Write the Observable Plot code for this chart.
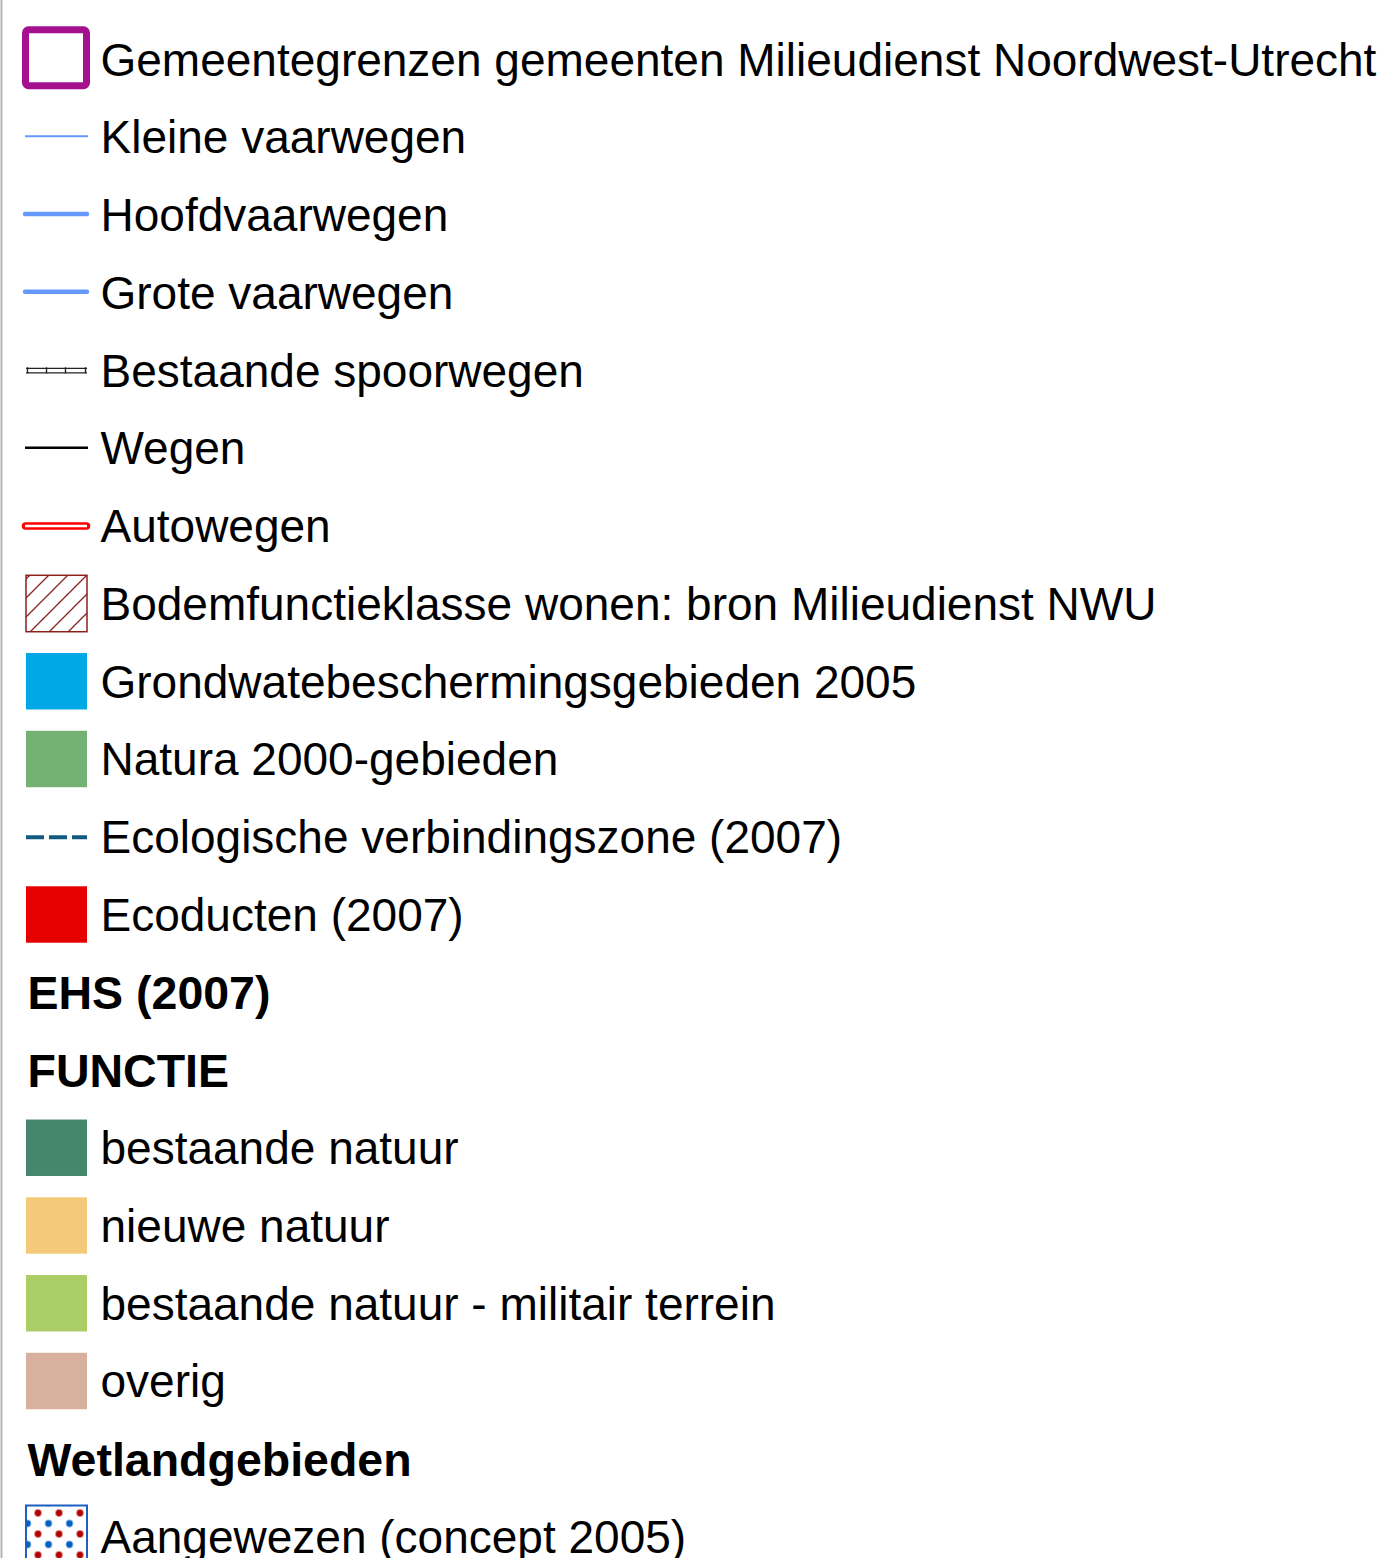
<!DOCTYPE html>
<html><head><meta charset="utf-8">
<script src="https://cdn.jsdelivr.net/npm/d3@7"></script>
<script src="https://cdn.jsdelivr.net/npm/@observablehq/plot@0.6"></script>
<style>html,body{margin:0;padding:0;background:#fff} svg{display:block}</style>
</head><body><div id="chart"></div>
<script>
// Legend entries (top to bottom)
const labels = [
  "Gemeentegrenzen gemeenten Milieudienst Noordwest-Utrecht",
  "Kleine vaarwegen",
  "Hoofdvaarwegen",
  "Grote vaarwegen",
  "Bestaande spoorwegen",
  "Wegen",
  "Autowegen",
  "Bodemfunctieklasse wonen: bron Milieudienst NWU",
  "Grondwatebeschermingsgebieden 2005",
  "Natura 2000-gebieden",
  "Ecologische verbindingszone (2007)",
  "Ecoducten (2007)",
  "EHS (2007)",
  "FUNCTIE",
  "bestaande natuur",
  "nieuwe natuur",
  "bestaande natuur - militair terrein",
  "overig",
  "Wetlandgebieden",
  "Aangewezen (concept 2005)"
];
const kinds = [
  "box", "thin", "thick", "thick", "rail", "road", "highway", "hatch",
  "fill", "fill", "dash", "fill", "header", "header",
  "fill", "fill", "fill", "fill", "header", "dots"
];
const colors = [
  "#a5108f", "#6699ff", "#6699ff", "#6699ff", "#222222", "#000000", "#ff0000", "#8b2020",
  "#00a8e6", "#73b273", "#135a80", "#e60000", "#000000", "#000000",
  "#45876c", "#f5c97a", "#aacd66", "#d7b09e", "#000000", "#1f5fbf"
];
const railTicks = [27, 46, 65, 85];

const rows = labels.map((label, i) => ({i, label, kind: kinds[i], color: colors[i]}));
const of = k => rows.filter(d => d.kind === k);

const SX1 = 26, SX2 = 87, TX = 100, HX = 27;
const H = 0.363;          // half swatch height in row units
const PX = 1 / 77.75;     // one pixel in row units

const chart = Plot.plot({
  width: 1385,
  height: 1558,
  margin: 0,
  x: {domain: [0, 1385], range: [0, 1385], axis: null},
  y: {domain: [0, 19], range: [59.25, 1536.5], axis: null},
  color: {type: "identity"},
  style: {background: "#fff", fontFamily: "'Liberation Sans', Arial, sans-serif"},
  marks: [
    Plot.ruleX([1], {stroke: "#b4b4b4", strokeWidth: 2}),
    // solid swatches
    Plot.rect(of("fill"), {x1: SX1, x2: SX2, y1: d => d.i - H, y2: d => d.i + H, fill: "color"}),
    // municipality border box
    Plot.rect(of("box"), {x1: 25.5, x2: 86.5, y1: d => d.i - 28 * PX - 1.5 * PX, y2: d => d.i + 28 * PX - 1.5 * PX,
      fill: "none", stroke: "color", strokeWidth: 7, rx: 3}),
    // waterways
    Plot.ruleY(of("thin"), {y: "i", x1: 25, x2: 88, stroke: "color", strokeWidth: 2, dy: -1.3}),
    Plot.ruleY(of("thick"), {y: "i", x1: 25, x2: 87, stroke: "color", strokeWidth: 4.5, strokeLinecap: "round", dy: -1.2}),
    // railway
    Plot.ruleY(of("rail"), {y: "i", x1: 26, x2: 87, stroke: "color", strokeWidth: 1.3, dy: -2.4}),
    Plot.ruleY(of("rail"), {y: "i", x1: 26, x2: 87, stroke: "color", strokeWidth: 1.3, dy: 2.2}),
    Plot.ruleX(of("rail").flatMap(d => railTicks.map(x => ({...d, x}))),
      {x: "x", y1: d => d.i - 3 * PX, y2: d => d.i + 3 * PX, stroke: "color", strokeWidth: 1.4}),
    // roads
    Plot.ruleY(of("road"), {y: "i", x1: 25, x2: 88, stroke: "color", strokeWidth: 2.5, dy: -0.8}),
    Plot.ruleY(of("highway"), {y: "i", x1: 25.5, x2: 86.5, stroke: "color", strokeWidth: 7.5, strokeLinecap: "round", dy: -0.3}),
    Plot.ruleY(of("highway"), {y: "i", x1: 25, x2: 87, stroke: "#fff", strokeWidth: 2.6, dy: -0.3}),
    // hatch
    Plot.rect(of("hatch"), {x1: SX1, x2: SX2, y1: d => d.i - H, y2: d => d.i + H,
      fill: "url(#hatch)", stroke: "color", strokeWidth: 1.5}),
    // ecological zone dashes
    Plot.ruleY(of("dash"), {y: "i", x1: 26, x2: 87, stroke: "color", strokeWidth: 4.2, strokeDasharray: "18,5", dy: 0}),
    // wetland dots
    Plot.rect(of("dots"), {x1: SX1, x2: SX2, y1: d => d.i - 31 * PX, y2: d => d.i + 40 * PX,
      fill: "url(#dots)", stroke: "color", strokeWidth: 2}),
    // labels
    Plot.text(rows.filter(d => d.kind !== "header"), {x: TX, y: "i", text: "label", textAnchor: "start",
      fontSize: 46, fill: "#000", dy: 1.2}),
    Plot.text(of("header"), {x: HX, y: "i", text: "label", textAnchor: "start",
      fontSize: 46.5, fontWeight: "bold", fill: "#000", dy: 1.6})
  ]
});

d3.select(chart).insert("defs", ":first-child").html(`
  <pattern id="hatch" patternUnits="userSpaceOnUse" width="19" height="19" x="16" y="0">
    <path d="M-2,21 L21,-2 M-2,2 L2,-2 M17,21 L21,17" stroke="#8b2020" stroke-width="1.3" fill="none"/>
  </pattern>
  <pattern id="dots" patternUnits="userSpaceOnUse" width="21" height="21" x="27.5" y="1502.5">
    <circle cx="10.5" cy="10.5" r="3.4" fill="#b30000"/>
    <circle cx="0" cy="0" r="3.4" fill="#0061c2"/>
    <circle cx="21" cy="0" r="3.4" fill="#0061c2"/>
    <circle cx="0" cy="21" r="3.4" fill="#0061c2"/>
    <circle cx="21" cy="21" r="3.4" fill="#0061c2"/>
  </pattern>
`);

document.getElementById("chart").appendChild(chart);
</script>
</body></html>
